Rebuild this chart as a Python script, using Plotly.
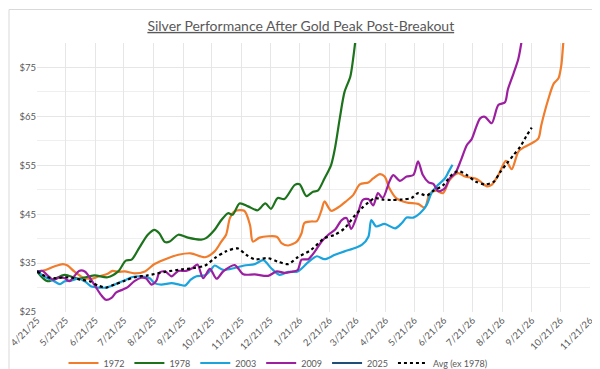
import pandas as pd
import plotly.graph_objects as go

START = "2025-04-21"

# Days after 4/21/25 and silver price ($) for each analogue series
days_1972 = [0, 9, 18, 27, 32, 39, 48, 57, 65, 74, 79, 85, 92, 102, 113, 123, 137, 148, 161, 176, 186, 193, 198, 202, 207, 217, 223, 226, 233, 251, 256, 263, 272, 277, 280, 287, 293, 298, 301, 308, 317, 324, 331, 338, 347, 352, 359, 364, 369, 376, 387, 399, 406, 411, 418, 425, 432, 441, 448, 459, 464, 471, 476, 483, 491, 497, 504, 510, 518, 525, 528, 535, 541, 546, 549, 551, 552]
vals_1972 = [33.3, 33.6, 34.3, 34.8, 34.5, 33.3, 32.1, 31.8, 32.3, 32.8, 33.4, 33.2, 33.3, 32.9, 33.3, 34.8, 36.0, 36.7, 37.0, 36.2, 37.4, 39.4, 40.8, 44.2, 45.6, 45.7, 42.8, 39.4, 40.2, 40.4, 39.1, 38.6, 39.4, 41.1, 43.2, 43.5, 43.6, 45.9, 47.6, 45.7, 46.6, 47.7, 48.9, 51.1, 51.5, 52.3, 53.2, 52.7, 50.3, 48.3, 47.4, 47.1, 46.3, 49.1, 49.8, 49.3, 52.0, 53.4, 52.7, 52.3, 51.7, 50.7, 51.0, 53.0, 55.9, 54.2, 57.8, 58.7, 59.5, 60.5, 63.2, 68.3, 71.7, 72.8, 75.5, 79.9, 81.3]

days_1978 = [0, 11, 29, 43, 60, 74, 85, 93, 99, 107, 116, 123, 128, 134, 139, 148, 158, 172, 177, 186, 193, 200, 205, 212, 221, 231, 239, 245, 252, 259, 270, 275, 282, 289, 294, 301, 308, 312, 317, 322, 328, 331, 333, 334]
vals_1978 = [33.3, 31.3, 32.6, 31.8, 32.5, 32.1, 33.3, 35.5, 35.7, 38.1, 40.8, 41.8, 41.1, 39.3, 39.4, 40.8, 40.2, 39.8, 40.1, 41.8, 43.8, 45.2, 44.9, 47.2, 46.6, 45.8, 47.2, 46.1, 48.3, 48.1, 51.0, 51.1, 48.7, 49.6, 49.8, 52.3, 55.1, 58.5, 64.6, 70.0, 73.1, 76.8, 79.9, 81.5]

days_2003 = [0, 9, 17, 24, 29, 36, 43, 50, 57, 64, 72, 81, 92, 99, 109, 118, 123, 130, 141, 149, 155, 161, 167, 176, 182, 186, 195, 207, 217, 228, 237, 245, 254, 263, 273, 284, 293, 301, 312, 322, 333, 340, 347, 350, 355, 364, 375, 382, 387, 394, 401, 408, 413, 420, 427, 431, 435]
vals_2003 = [33.3, 32.1, 31.4, 30.7, 31.3, 31.4, 31.8, 31.3, 30.2, 30.0, 30.0, 30.6, 31.5, 32.1, 32.3, 31.9, 30.9, 30.6, 30.9, 30.6, 30.4, 31.6, 32.3, 32.5, 33.6, 34.5, 33.6, 34.0, 34.5, 34.8, 35.6, 34.0, 32.6, 33.2, 33.3, 35.2, 36.4, 35.8, 36.7, 37.4, 38.1, 38.7, 40.4, 43.8, 42.5, 43.0, 42.1, 43.2, 44.3, 44.3, 45.2, 46.9, 49.3, 51.0, 52.3, 53.7, 55.1]

days_2009 = [0, 6, 11, 17, 24, 29, 34, 39, 44, 50, 55, 60, 67, 72, 78, 83, 90, 95, 102, 109, 114, 120, 125, 128, 134, 141, 148, 156, 163, 168, 174, 181, 188, 195, 207, 216, 228, 242, 251, 259, 266, 273, 277, 284, 291, 298, 305, 312, 319, 324, 329, 336, 341, 347, 352, 357, 362, 369, 373, 380, 387, 394, 399, 404, 410, 415, 420, 427, 432, 438, 444, 450, 455, 460, 464, 469, 476, 483, 490, 493, 499, 504, 507, 508]
vals_2009 = [33.3, 33.4, 32.5, 31.6, 32.1, 31.9, 31.3, 32.3, 33.4, 33.3, 32.1, 30.6, 28.5, 27.5, 27.9, 29.0, 29.6, 30.1, 31.3, 32.0, 31.9, 30.6, 31.4, 33.0, 33.3, 32.3, 33.4, 33.4, 34.0, 34.7, 31.9, 33.8, 31.8, 33.3, 34.6, 32.7, 32.7, 32.4, 33.3, 33.0, 33.2, 33.6, 35.7, 35.8, 37.4, 39.4, 40.8, 41.8, 43.8, 44.2, 42.0, 45.2, 47.9, 48.1, 46.8, 49.3, 48.3, 51.7, 53.0, 51.8, 52.7, 53.0, 55.8, 53.0, 51.5, 51.2, 49.7, 50.3, 52.3, 53.4, 56.1, 59.1, 60.3, 62.9, 64.6, 64.9, 63.6, 67.3, 67.9, 70.5, 73.8, 76.8, 79.9, 81.3]

days_2025 = [0, 4]
vals_2025 = [33.3, 33.1]

days_avg = [0, 11, 20, 29, 37, 46, 55, 64, 72, 81, 92, 102, 116, 134, 151, 165, 176, 186, 198, 210, 219, 228, 242, 252, 263, 273, 287, 301, 312, 322, 333, 340, 347, 354, 361, 371, 382, 392, 399, 408, 415, 425, 434, 441, 450, 459, 469, 478, 485, 492, 499, 506, 513, 518]
vals_avg = [33.3, 32.1, 31.9, 32.1, 32.0, 31.6, 31.3, 30.4, 30.0, 30.6, 31.4, 32.1, 32.5, 33.2, 33.7, 34.0, 34.5, 36.0, 37.4, 38.0, 36.7, 35.8, 36.0, 35.3, 34.8, 36.2, 37.7, 40.1, 40.8, 42.1, 44.8, 46.2, 47.4, 48.3, 48.0, 47.9, 48.0, 48.3, 49.3, 48.8, 49.8, 50.9, 53.0, 53.8, 53.0, 51.7, 51.1, 51.6, 53.6, 55.4, 57.1, 58.8, 61.2, 62.7]

series = [
    ("1972", days_1972, vals_1972, "#F07C2C", "solid"),
    ("1978", days_1978, vals_1978, "#1C731C", "solid"),
    ("2003", days_2003, vals_2003, "#1AA3DD", "solid"),
    ("2009", days_2009, vals_2009, "#9C1FA0", "solid"),
    ("2025", days_2025, vals_2025, "#1F4E79", "solid"),
    ("Avg (ex 1978)", days_avg, vals_avg, "#000000", "dot"),
]

start = pd.Timestamp(START)
fig = go.Figure()
for name, d, v, color, dash in series:
    x = start + pd.to_timedelta(d, unit="D")
    fig.add_trace(go.Scatter(
        x=x, y=v, name=name, mode="lines",
        line=dict(color=color, width=2.2, dash=dash, shape="spline", smoothing=0.8),
    ))

GRID = "#E6E6E6"
FONT = "Lato"
TXT = "#595959"

PL, PR, PT, PB = 29, 582, 35, 304  # plot area in pixels
PW, PH = PR - PL, PB - PT

fig.update_layout(
    width=600, height=369,
    margin=dict(l=PL, r=600 - PR, t=PT, b=369 - PB, autoexpand=False),
    paper_bgcolor="white", plot_bgcolor="white",
    font=dict(family=FONT, color=TXT, size=9),
    title=dict(
        text="Silver Performance After Gold Peak Post-Breakout",
        x=0.488, xref="container", xanchor="center",
        y=1 - 18 / 369, yref="container", yanchor="middle",
        font=dict(family=FONT, size=14, color=TXT, lineposition="under"),
    ),
    showlegend=True,
    legend=dict(
        orientation="h", x=0.45, xanchor="center", xref="container",
        y=(PB - 355) / PH, yref="paper", yanchor="middle",
        font=dict(family=FONT, size=9, color=TXT),
        itemwidth=30, tracegroupgap=0, bgcolor="rgba(0,0,0,0)",
    ),
    shapes=[dict(
        type="rect", xref="paper", yref="paper",
        x0=(1 - PL) / PW, x1=(598.5 - PL) / PW,
        y0=(PB - 367.5) / PH, y1=(PB - 1.5) / PH,
        line=dict(color="#D9D9D9", width=1), layer="below",
    )],
)

fig.update_xaxes(
    type="date", range=["2025-04-21", "2026-11-21"], automargin=False,
    tick0="2025-04-21", dtick="M1", tickformat="%-m/%-d/%y",
    tickangle=-45, showgrid=True, gridcolor=GRID, gridwidth=1,
    showline=False, zeroline=False, ticks="",
    tickfont=dict(family=FONT, size=9.5, color=TXT),
)
fig.update_yaxes(
    range=[25, 80], tick0=25, dtick=10, tickprefix="$", automargin=False,
    showgrid=True, gridcolor=GRID, gridwidth=1,
    minor=dict(dtick=5, tick0=25, showgrid=True, gridcolor="#EFEFEF", gridwidth=1),
    showline=False, zeroline=False, ticks="",
    tickfont=dict(family=FONT, size=9.5, color=TXT),
)

fig.write_html("out.html")
